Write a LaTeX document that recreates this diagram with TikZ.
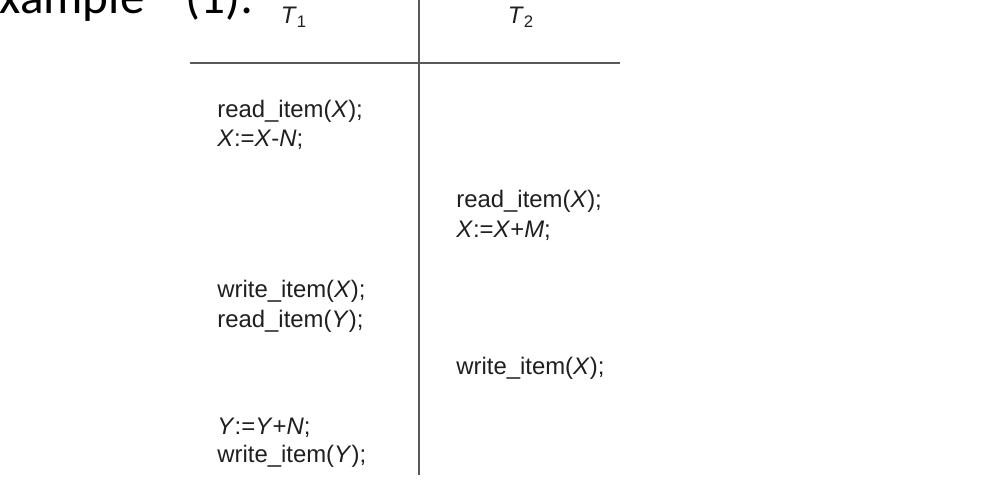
\documentclass[tikz,border=0pt]{standalone}
\usepackage{fontspec}
\setmainfont{Liberation Sans}
\newfontfamily\titlefont{Carlito}
\tikzset{stmt/.style={anchor=base west, inner sep=0pt, font=\fontsize{13.6pt}{16pt}\selectfont, text=black!88},
         txhead/.style={anchor=base, inner sep=0pt, font=\fontsize{13.6pt}{16pt}\selectfont, text=black!88},
         tabrule/.style={draw=black!65, line width=1.1pt},
        }

\begin{document}
\begin{tikzpicture}
        \useasboundingbox(0,0)rectangle(20,9.64);
        \clip(0,0)rectangle(20,9.64);
        \node[anchor=base east, inner sep=0pt, font=\titlefont\fontsize{28pt}{32pt}\selectfont](title)at(5.08,9.37){Example\hspace{0.6cm} (1):};

        \node[txhead](t1)at(5.88,9.16){\textit{T}\textsubscript{1}};
        \node[txhead](t2)at(10.42,9.16){\textit{T}\textsubscript{2}};
        \draw[tabrule](3.8,8.38)--(12.4,8.38);
        \draw[tabrule](8.38,9.64)--(8.38,0.14);

        \node[stmt](r1x)at(4.34,7.28){read\_item(\textit{X});};
        \node[stmt](c1x)at(4.34,6.70){\textit{X}:=\textit{X}-\textit{N};};
        \node[stmt](r2x)at(9.12,5.48){read\_item(\textit{X});};
        \node[stmt](c2x)at(9.12,4.88){\textit{X}:=\textit{X}+\textit{M};};
        \node[stmt](w1x)at(4.34,3.68){write\_item(\textit{X});};
        \node[stmt](r1y)at(4.34,3.08){read\_item(\textit{Y});};
        \node[stmt](w2x)at(9.12,2.14){write\_item(\textit{X});};
        \node[stmt](c1y)at(4.34,0.94){\textit{Y}:=\textit{Y}+\textit{N};};
        \node[stmt](w1y)at(4.34,0.38){write\_item(\textit{Y});};
    \end{tikzpicture}
\end{document}
